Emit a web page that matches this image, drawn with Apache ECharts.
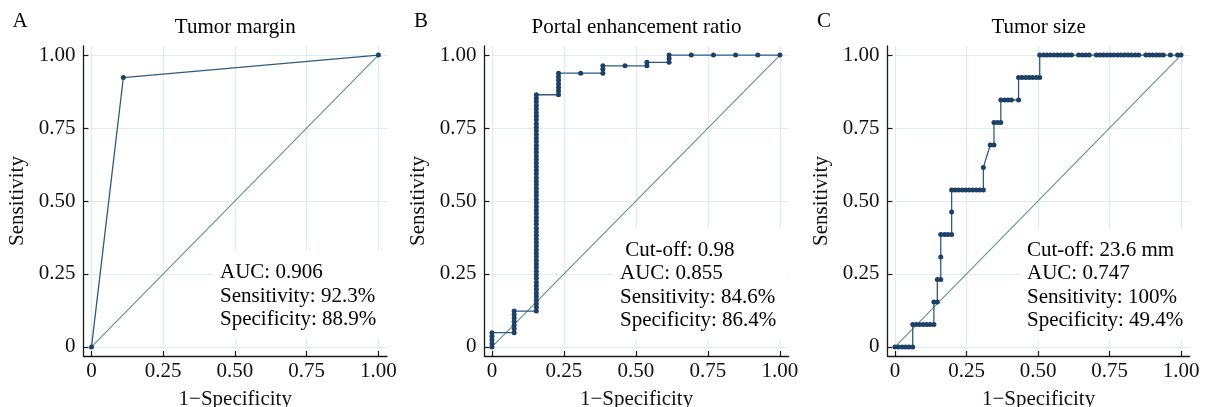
<!DOCTYPE html>
<html><head><meta charset="utf-8">
<script src="https://cdn.jsdelivr.net/npm/echarts@6/dist/echarts.min.js"></script>
<style>html,body{margin:0;padding:0;background:#fff}#c{width:1205px;height:407px}</style>
</head><body><div id="c"></div>
<script>
// ---------- data ----------
const TICKS = [0, 0.25, 0.5, 0.75, 1];
const TICK_LABELS = ['0', '0.25', '0.50', '0.75', '1.00'];
const PANEL_LETTERS = ['A', 'B', 'C'];
const PANEL_TITLES = ['Tumor margin', 'Portal enhancement ratio', 'Tumor size'];
const X_NAME = '1\u2212Specificity';
const Y_NAME = 'Sensitivity';
const DIAG_X = [0, 1];
const DIAG_Y = [0, 1];

const A_FPR = [0, 0.111, 1];
const A_TPR = [0, 0.923, 1];

const B_FPR = [
  0, 0, 0, 0, 0,
  0.077, 0.077, 0.077, 0.077, 0.077, 0.077, 0.077,
  0.154, 0.154, 0.154, 0.154, 0.154, 0.154, 0.154, 0.154, 0.154, 0.154,
  0.154, 0.154, 0.154, 0.154, 0.154, 0.154, 0.154, 0.154, 0.154, 0.154,
  0.154, 0.154, 0.154, 0.154, 0.154, 0.154, 0.154, 0.154, 0.154, 0.154,
  0.154, 0.154, 0.154, 0.154, 0.154, 0.154, 0.154, 0.154, 0.154, 0.154,
  0.154, 0.154, 0.154, 0.154, 0.154, 0.154, 0.154, 0.154, 0.154, 0.154,
  0.154, 0.154, 0.154, 0.154, 0.154, 0.154, 0.154, 0.154, 0.154, 0.154,
  0.154,
  0.231, 0.231, 0.231, 0.231, 0.231, 0.231, 0.231,
  0.308,
  0.385, 0.385, 0.385,
  0.462,
  0.538, 0.538,
  0.615, 0.615, 0.615,
  0.692, 0.769, 0.846, 0.923, 1
];
const B_TPR = [
  0, 0.012, 0.025, 0.037, 0.049,
  0.049, 0.062, 0.074, 0.086, 0.099, 0.111, 0.123,
  0.123, 0.136, 0.148, 0.160, 0.173, 0.185, 0.198, 0.210, 0.222, 0.235,
  0.247, 0.259, 0.272, 0.284, 0.296, 0.309, 0.321, 0.333, 0.346, 0.358,
  0.370, 0.383, 0.395, 0.407, 0.420, 0.432, 0.444, 0.457, 0.469, 0.481,
  0.494, 0.506, 0.519, 0.531, 0.543, 0.556, 0.568, 0.580, 0.593, 0.605,
  0.617, 0.630, 0.642, 0.654, 0.667, 0.679, 0.691, 0.704, 0.716, 0.728,
  0.741, 0.753, 0.765, 0.778, 0.790, 0.802, 0.815, 0.827, 0.840, 0.852,
  0.864,
  0.864, 0.877, 0.889, 0.901, 0.914, 0.926, 0.938,
  0.938,
  0.938, 0.951, 0.963,
  0.963,
  0.963, 0.975,
  0.975, 0.988, 1,
  1, 1, 1, 1, 1
];

const C_FPR = [
  0, 0.012, 0.025, 0.037, 0.049, 0.062,
  0.062, 0.074, 0.086, 0.099, 0.111, 0.123, 0.136,
  0.136, 0.148,
  0.148, 0.160,
  0.160,
  0.160, 0.173, 0.185, 0.198,
  0.198,
  0.198, 0.210, 0.222, 0.235, 0.247, 0.259, 0.272, 0.284, 0.296, 0.309,
  0.309,
  0.333, 0.346,
  0.346, 0.358, 0.370,
  0.370, 0.383, 0.395, 0.407, 0.432,
  0.432, 0.444, 0.457, 0.469, 0.481, 0.494, 0.506,
  0.506, 0.519, 0.531, 0.543, 0.556, 0.568, 0.580, 0.593, 0.605, 0.617,
  0.642, 0.654, 0.667, 0.679,
  0.704, 0.716, 0.728, 0.741, 0.753, 0.765, 0.778, 0.790, 0.802, 0.815, 0.827, 0.840, 0.852,
  0.877, 0.889, 0.901, 0.914, 0.926, 0.938,
  0.963, 0.988, 1
];
const C_TPR = [
  0, 0, 0, 0, 0, 0,
  0.077, 0.077, 0.077, 0.077, 0.077, 0.077, 0.077,
  0.154, 0.154,
  0.231, 0.231,
  0.308,
  0.385, 0.385, 0.385, 0.385,
  0.462,
  0.538, 0.538, 0.538, 0.538, 0.538, 0.538, 0.538, 0.538, 0.538, 0.538,
  0.615,
  0.692, 0.692,
  0.769, 0.769, 0.769,
  0.846, 0.846, 0.846, 0.846, 0.846,
  0.923, 0.923, 0.923, 0.923, 0.923, 0.923, 0.923,
  1, 1, 1, 1, 1, 1, 1, 1, 1, 1,
  1, 1, 1, 1,
  1, 1, 1, 1, 1, 1, 1, 1, 1, 1, 1, 1, 1,
  1, 1, 1, 1, 1, 1,
  1, 1, 1
];

const A_NOTE = ['AUC: 0.906', 'Sensitivity: 92.3%', 'Specificity: 88.9%'];
const B_NOTE = [' Cut-off: 0.98', 'AUC: 0.855', 'Sensitivity: 84.6%', 'Specificity: 86.4%'];
const C_NOTE = ['Cut-off: 23.6 mm', 'AUC: 0.747', 'Sensitivity: 100%', 'Specificity: 49.4%'];

// ---------- layout / style ----------
const FONT = "'Liberation Serif', 'DejaVu Serif', serif";
const FS = 21;
const ROC_LINE = '#2f5a82';
const ROC_MARK = '#1d4166';
const DIAG_COLOR = '#5f948c';
const GRID_COLOR = '#e1ebee';
const AXIS_COLOR = '#1a1a1a';

const PANELS = [
  { left: 83.5, width: 303.5, xmin: -0.0279, fpr: A_FPR, tpr: A_TPR, note: A_NOTE, noteLeft: 213, noteTop: 250.75, letterX: 12.5 },
  { left: 484.5, width: 304.1, xmin: -0.026, fpr: B_FPR, tpr: B_TPR, note: B_NOTE, noteLeft: 613, noteTop: 228.25, letterX: 414 },
  { left: 887.5, width: 302.1, xmin: -0.0262, fpr: C_FPR, tpr: C_TPR, note: C_NOTE, noteLeft: 1020, noteTop: 228.25, letterX: 817 }
];
const XMAX = 1.03, YMIN = -0.031, YMAX = 1.031;
const TOP = 46, HEIGHT = 310;

function zip(a, b) { return a.map((v, i) => [v, b[i]]); }
function tickLabel(v) {
  for (let i = 0; i < TICKS.length; i++) if (Math.abs(TICKS[i] - v) < 1e-9) return TICK_LABELS[i];
  return '';
}

const grids = [], xAxes = [], yAxes = [], series = [], titles = [];
PANELS.forEach((p, i) => {
  grids.push({ left: p.left, top: TOP, width: p.width, height: HEIGHT, containLabel: false, outerBoundsMode: 'none' });
  const axisCommon = {
    type: 'value', gridIndex: i,
    splitLine: { show: false },
    axisLine: { show: true, onZero: false, lineStyle: { color: AXIS_COLOR, width: 1.3 } },
    axisTick: { show: true, inside: true, length: 5, customValues: TICKS, lineStyle: { color: AXIS_COLOR, width: 1.2 } },
    nameLocation: 'middle', nameMoveOverlap: false,
    nameTextStyle: { fontFamily: FONT, fontSize: FS, color: '#111' }
  };
  xAxes.push(Object.assign({}, axisCommon, {
    min: p.xmin, max: XMAX, name: X_NAME, nameGap: 32.5,
    axisLabel: { customValues: TICKS, formatter: tickLabel, margin: 5, fontFamily: FONT, fontSize: FS, color: '#111', showMinLabel: true, showMaxLabel: true, hideOverlap: false }
  }));
  yAxes.push(Object.assign({}, axisCommon, {
    min: YMIN, max: YMAX, name: Y_NAME, nameGap: 56,
    axisLabel: { customValues: TICKS, formatter: tickLabel, margin: 8, fontFamily: FONT, fontSize: FS, color: '#111', showMinLabel: true, showMaxLabel: true, hideOverlap: false }
  }));
  // grid lines
  const gl = [];
  TICKS.forEach(v => {
    gl.push([{ coord: [v, 0] }, { coord: [v, YMAX] }]);
    gl.push([{ coord: [0, v] }, { coord: [XMAX, v] }]);
  });
  series.push({
    type: 'line', xAxisIndex: i, yAxisIndex: i, data: [], silent: true, z: 1,
    markLine: { z: 1, silent: true, symbol: ['none', 'none'], label: { show: false }, animation: false,
      lineStyle: { color: GRID_COLOR, width: 1.2, type: 'solid' }, emphasis: { disabled: true }, data: gl }
  });
  series.push({
    type: 'line', xAxisIndex: i, yAxisIndex: i, z: 2, silent: true, symbol: 'none',
    lineStyle: { color: DIAG_COLOR, width: 1.1 }, data: zip(DIAG_X, DIAG_Y)
  });
  series.push({
    type: 'line', xAxisIndex: i, yAxisIndex: i, z: 3, silent: true,
    symbol: 'circle', symbolSize: 5, showAllSymbol: true,
    lineStyle: { color: ROC_LINE, width: 1.3 }, itemStyle: { color: ROC_MARK },
    data: zip(p.fpr, p.tpr)
  });
  titles.push({ text: PANEL_LETTERS[i], left: p.letterX, top: 21.5, textAlign: 'left', textVerticalAlign: 'middle', padding: 0,
    textStyle: { fontFamily: FONT, fontSize: FS, fontWeight: 'normal', color: '#000' } });
  titles.push({ text: PANEL_TITLES[i], left: p.left + p.width / 2, top: 27.4, textAlign: 'center', textVerticalAlign: 'middle', padding: 0,
    textStyle: { fontFamily: FONT, fontSize: FS, fontWeight: 'normal', color: '#000' } });
  titles.push({ text: p.note.join('\n'), left: p.noteLeft, top: p.noteTop, textAlign: 'left', textVerticalAlign: 'top',
    padding: [10, 11, 8, 7], backgroundColor: '#ffffff', z: 4,
    textStyle: { fontFamily: FONT, fontSize: FS, fontWeight: 'normal', color: '#000', lineHeight: 23.5 } });
});

const chart = echarts.init(document.getElementById('c'), null, { renderer: 'canvas' });
chart.setOption({
  animation: false,
  backgroundColor: '#ffffff',
  title: titles,
  grid: grids,
  xAxis: xAxes,
  yAxis: yAxes,
  series: series
});
</script>
</body></html>
